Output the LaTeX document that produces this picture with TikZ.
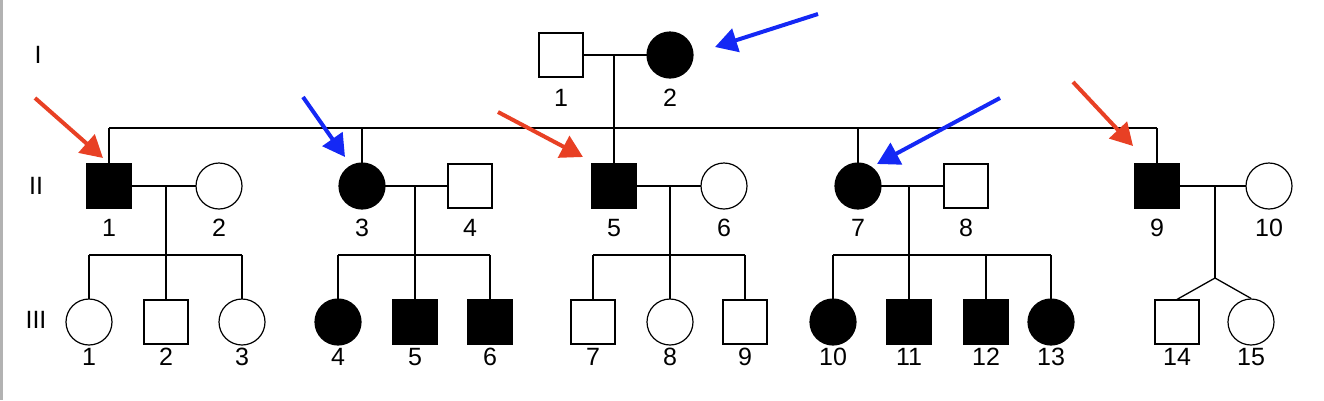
\documentclass[tikz,border=0pt]{standalone}
\usepackage{fontspec}
\setmainfont{Liberation Sans}
\usetikzlibrary{arrows.meta}
\begin{document}
\begin{tikzpicture}[x=1pt,y=-1pt,
  m/.style={draw,line width=1.2pt,minimum size=44pt,inner sep=0pt,rectangle,fill=white},
  f/.style={draw,line width=1.2pt,minimum size=46pt,inner sep=0pt,circle,fill=white},
  aff/.style={fill=black},
  ln/.style={line width=1.3pt},
  lab/.style={font=\fontsize{25}{30}\selectfont},
  ra/.style={draw={rgb,255:red,232;green,64;blue,36},line width=4pt,-{Triangle[length=22pt,width=24pt]}},
  ba/.style={draw={rgb,255:red,20;green,40;blue,245},line width=4pt,-{Triangle[length=22pt,width=24pt]}}]
\useasboundingbox (0,0) rectangle (1324,400);
\draw[gray!60,line width=3pt] (1,0) -- (1,400);
% generation labels
\node[lab] (gI) at (38,55) {I};
\node[lab] (gII) at (36,186) {II};
\node[lab] (gIII) at (36,320) {III};
% coordinates for lines
\coordinate (cI) at (614,55);
\coordinate (sI) at (614,128);
\coordinate (s1) at (109,128); \coordinate (s3) at (362,128);
\coordinate (s7) at (858,128); \coordinate (s9) at (1157,128);
\coordinate (c1) at (166,186); \coordinate (t1) at (166,255);
\coordinate (c2) at (415,186); \coordinate (t2) at (415,255);
\coordinate (c3) at (670,186); \coordinate (t3) at (670,255);
\coordinate (c4) at (909,186); \coordinate (t4) at (909,255);
\coordinate (c5) at (1215,186); \coordinate (t5) at (1215,278);
% lines
\draw[ln] (561,55) -- (670,55);
\draw[ln] (cI) -- (sI);
\draw[ln] (s1) -- (s9);
\foreach \x in {109,362,858,1157} \draw[ln] (\x,128) -- (\x,186);
\draw[ln] (sI) -- (614,186);
\draw[ln] (109,186) -- (219,186); \draw[ln] (c1) -- (t1); \draw[ln] (89,255) -- (242,255);
\draw[ln] (362,186) -- (470,186); \draw[ln] (c2) -- (t2); \draw[ln] (338,255) -- (490,255);
\draw[ln] (614,186) -- (724,186); \draw[ln] (c3) -- (t3); \draw[ln] (593,255) -- (745,255);
\draw[ln] (858,186) -- (966,186); \draw[ln] (c4) -- (t4); \draw[ln] (833,255) -- (1051,255);
\draw[ln] (1157,186) -- (1269,186); \draw[ln] (c5) -- (t5);
\foreach \x in {89,166,242,338,415,490,593,670,745,833,909,986,1051} \draw[ln] (\x,255) -- (\x,322);
% generation I
\node[m] (I1) at (561,55) {}; \node[lab] (lI1) at (561,98) {1};
\node[f,aff] (I2) at (670,55) {}; \node[lab] (lI2) at (670,98) {2};
% generation II
\foreach \n/\x/\t/\a in {1/109/m/1,2/219/f/0,3/362/f/1,4/470/m/0,5/614/m/1,6/724/f/0,7/858/f/1,8/966/m/0,9/1157/m/1,10/1269/f/0}{
  \ifnum\a=1 \node[\t,aff] (II\n) at (\x,186) {}; \else \node[\t] (II\n) at (\x,186) {}; \fi
  \node[lab] (lII\n) at (\x,228) {\n};
}
% generation III
\foreach \n/\x/\t/\a in {1/89/f/0,2/166/m/0,3/242/f/0,4/338/f/1,5/415/m/1,6/490/m/1,7/593/m/0,8/670/f/0,9/745/m/0,10/833/f/1,11/909/m/1,12/986/m/1,13/1051/f/1,14/1177/m/0,15/1251/f/0}{
  \ifnum\a=1 \node[\t,aff] (III\n) at (\x,322) {}; \else \node[\t] (III\n) at (\x,322) {}; \fi
  \node[lab] (lIII\n) at (\x,357) {\n};
}
\draw[ln] (t5) -- (III14.north);
\draw[ln] (t5) -- (III15.north);
% arrows
\coordinate (ra1) at (35,98); \coordinate (ra1e) at (103,158);
\coordinate (ba1) at (303,97); \coordinate (ba1e) at (345,157);
\coordinate (ra2) at (498,112); \coordinate (ra2e) at (583,157);
\coordinate (ba2) at (818,14); \coordinate (ba2e) at (715,47);
\coordinate (ba3) at (1000,98); \coordinate (ba3e) at (877,164);
\coordinate (ra3) at (1073,82); \coordinate (ra3e) at (1133,146);
\draw[ra] (ra1) -- (ra1e);
\draw[ba] (ba1) -- (ba1e);
\draw[ra] (ra2) -- (ra2e);
\draw[ba] (ba2) -- (ba2e);
\draw[ba] (ba3) -- (ba3e);
\draw[ra] (ra3) -- (ra3e);
\end{tikzpicture}
\end{document}
